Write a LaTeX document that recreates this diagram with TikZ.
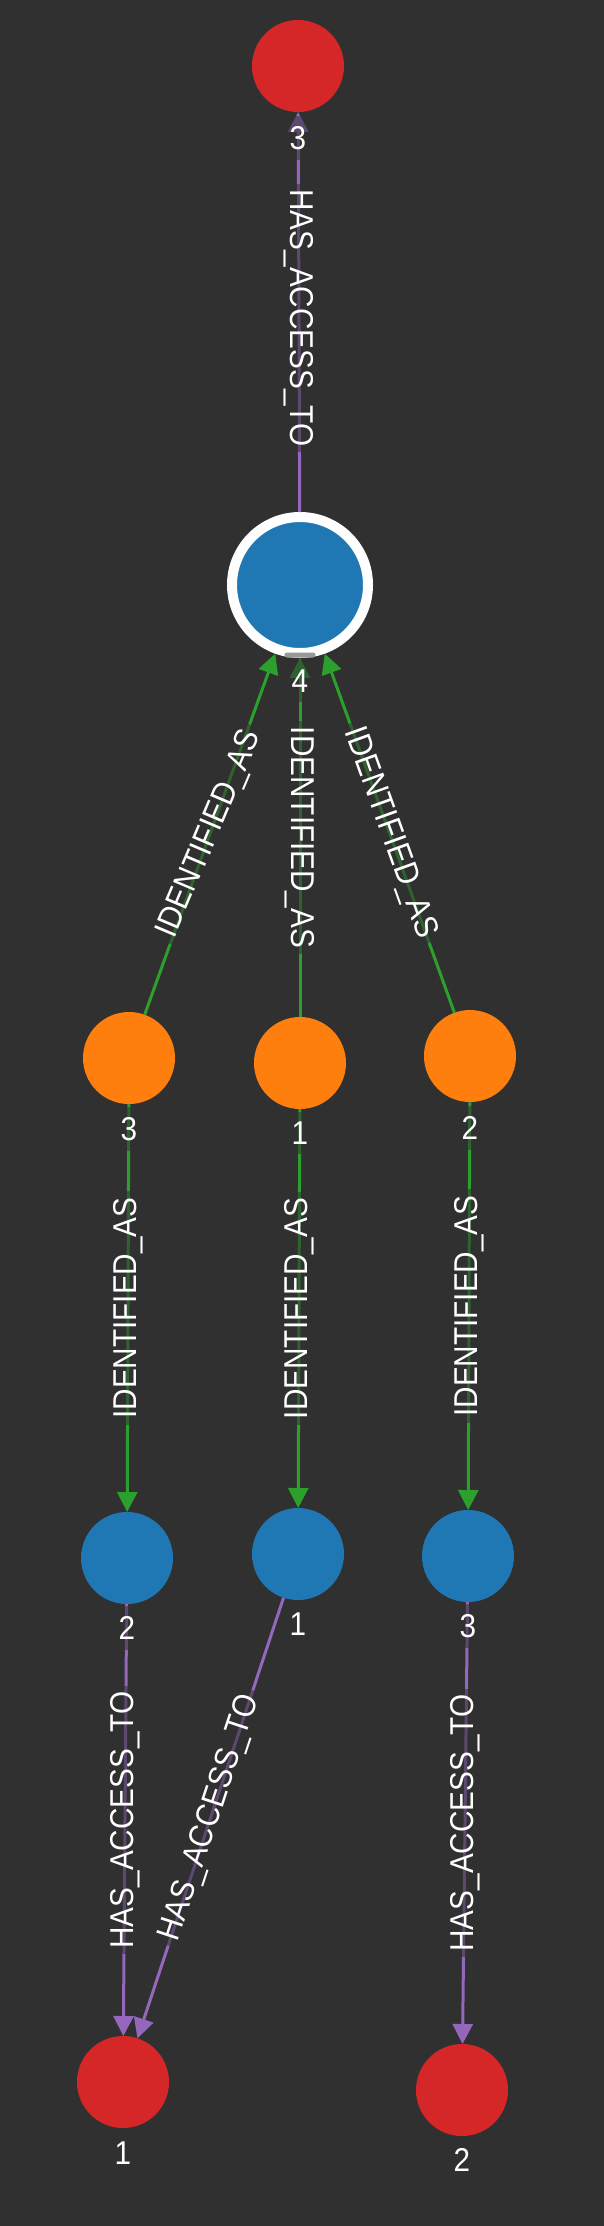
\documentclass[tikz,border=0pt]{standalone}
\usepackage{fontspec}
\setmainfont{Liberation Sans}
\newfontfamily\lblfont[FakeStretch=0.9]{Liberation Sans}
\usetikzlibrary{arrows.meta}
\definecolor{bg}{HTML}{303030}
\definecolor{cblue}{HTML}{1F77B4}
\definecolor{corange}{HTML}{FF7F0E}
\definecolor{cred}{HTML}{D62728}
\definecolor{cgreen}{HTML}{2CA02C}
\definecolor{cpurple}{HTML}{9467BD}
\begin{document}
\begin{tikzpicture}[x=1pt,y=-1pt,
  vert/.style={circle,inner sep=0pt,outer sep=0pt,minimum size=92pt},
  nlabel/.style={text=white,font=\lblfont\fontsize{33}{38}\selectfont,fill=bg,fill opacity=0.55,text opacity=1,inner xsep=5pt,inner ysep=10pt},
  elabel/.style={text=white,font=\lblfont\fontsize{33}{38}\selectfont,fill=bg,fill opacity=0.55,text opacity=1,inner xsep=6pt,inner ysep=2pt},
  idas/.style={draw=cgreen,line width=3pt,-{Triangle[length=20pt,width=20pt]}},
  hat/.style={draw=cpurple,line width=3pt,-{Triangle[length=20pt,width=20pt]}},
]
\fill[bg] (0,0) rectangle (604,2226);
\useasboundingbox (0,0) rectangle (604,2226);
% nodes
\node[vert,fill=cred] (r3) at (298,66) {};
\node[circle,fill=cblue,draw=white,line width=10pt,minimum size=136pt,inner sep=0pt,outer sep=5pt] (b4) at (300,585) {};
\node[vert,fill=corange] (o3) at (129,1058) {};
\node[vert,fill=corange] (o1) at (300,1063) {};
\node[vert,fill=corange] (o2) at (470,1056) {};
\node[vert,fill=cblue] (b2) at (127,1558) {};
\node[vert,fill=cblue] (b1) at (298,1554) {};
\node[vert,fill=cblue] (b3) at (468,1556) {};
\node[vert,fill=cred] (r1) at (123,2082) {};
\node[vert,fill=cred] (r2) at (462,2090) {};
% edges
\draw[hat] (b4) -- node[elabel,rotate=-90,pos=0.485]{HAS\_ACCESS\_TO} (r3);
\draw[idas] (o3) -- node[elabel,rotate=67]{IDENTIFIED\_AS} (b4);
\draw[idas] (o1) -- node[elabel,rotate=-90]{IDENTIFIED\_AS} (b4);
\draw[idas] (o2) -- node[elabel,rotate=-70.2]{IDENTIFIED\_AS} (b4);
\draw[idas] (o3) -- node[elabel,rotate=90]{IDENTIFIED\_AS} (b2);
\draw[idas] (o1) -- node[elabel,rotate=90]{IDENTIFIED\_AS} (b1);
\draw[idas] (o2) -- node[elabel,rotate=90]{IDENTIFIED\_AS} (b3);
\draw[hat] (b2) -- node[elabel,rotate=90]{HAS\_ACCESS\_TO} (r1);
\draw[hat] (b1) -- node[elabel,rotate=71.7]{HAS\_ACCESS\_TO} (r1);
\draw[hat] (b3) -- node[elabel,rotate=90]{HAS\_ACCESS\_TO} (r2);
% selection bar
\node[fill=black!40,rounded corners=2.5pt,minimum width=31pt,minimum height=5pt,inner sep=0pt] (bar) at (300,655) {};
% node labels
\node[nlabel] (lr3) at (298,138) {3};
\node[nlabel] (lb4) at (300,681) {4};
\node[nlabel] (lo3) at (129,1129) {3};
\node[nlabel] (lo1) at (300,1133) {1};
\node[nlabel] (lo2) at (470,1128) {2};
\node[nlabel] (lb2) at (127,1628) {2};
\node[nlabel] (lb1) at (298,1624) {1};
\node[nlabel] (lb3) at (468,1626) {3};
\node[nlabel] (lr1) at (123,2153) {1};
\node[nlabel] (lr2) at (462,2160) {2};
\end{tikzpicture}
\end{document}
